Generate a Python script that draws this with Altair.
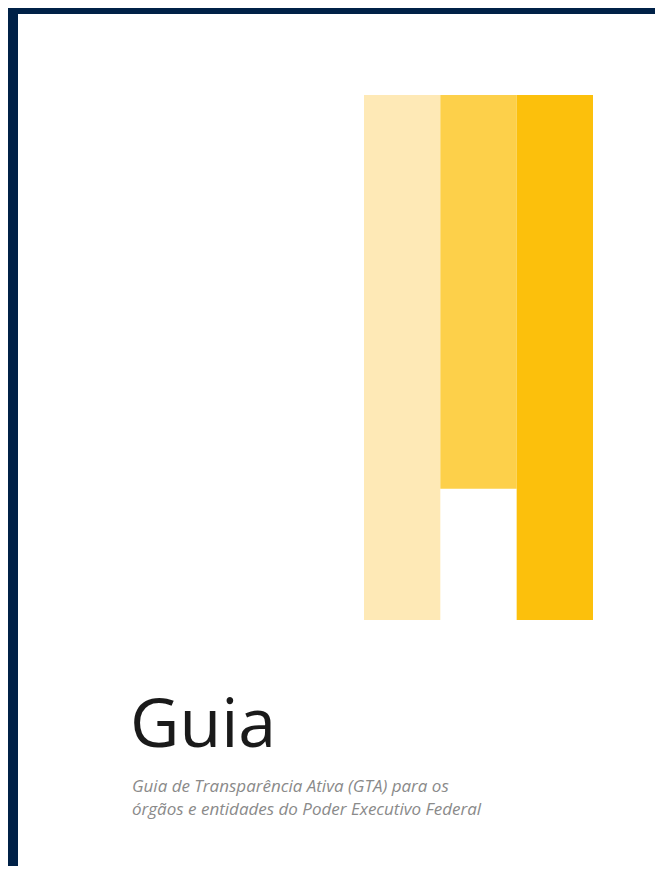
import altair as alt
import pandas as pd

# --- data ---
bar_names = ["claro", "médio", "escuro"]
bar_low = [0, 25, 0]
bar_high = [100, 100, 100]
bar_colors = ["#FEE9B6", "#FDD04A", "#FCC00C"]

title_text = "Guia"
subtitle_lines = [
    "Guia de Transparência Ativa (GTA) para os",
    "órgãos e entidades do Poder Executivo Federal",
]

NAVY = "#002147"
W, H = 647, 858

bars_df = pd.DataFrame({"nome": bar_names, "lo": bar_low, "hi": bar_high})
one = pd.DataFrame({"k": [0]})

border_top = alt.Chart(one).mark_rect(color=NAVY).encode(
    x=alt.value(0), x2=alt.value(W), y=alt.value(0), y2=alt.value(6)
)
border_left = alt.Chart(one).mark_rect(color=NAVY).encode(
    x=alt.value(0), x2=alt.value(10), y=alt.value(0), y2=alt.value(H)
)

bars = alt.Chart(bars_df).mark_bar(opacity=1).encode(
    x=alt.X("nome:N", sort=bar_names, axis=None,
            scale=alt.Scale(range=[356, 585], paddingInner=0, paddingOuter=0)),
    y=alt.Y("lo:Q", axis=None, scale=alt.Scale(domain=[0, 100], range=[612, 87])),
    y2="hi:Q",
    color=alt.Color("nome:N", scale=alt.Scale(domain=bar_names, range=bar_colors), legend=None),
)

title = alt.Chart(pd.DataFrame({"t": [title_text]})).mark_text(
    font="Open Sans", fontSize=68, color="#1a1a1a", align="left", baseline="alphabetic"
).encode(text="t:N", x=alt.value(122), y=alt.value(739))

subtitle = alt.Chart(pd.DataFrame({"t": ["\n".join(subtitle_lines)]})).mark_text(
    font="Open Sans", fontSize=17, fontStyle="italic", color="#8a8a8a",
    align="left", baseline="alphabetic", lineBreak="\n", lineHeight=23
).encode(text="t:N", x=alt.value(124), y=alt.value(784))

chart = alt.layer(border_top, border_left, bars, title, subtitle).properties(
    width=W, height=H,
    autosize=alt.AutoSizeParams(type="none"),
    padding=0,
    background="white",
).configure_view(strokeWidth=0)

chart.save("out.html", embed_options={"renderer": "svg", "actions": False})
